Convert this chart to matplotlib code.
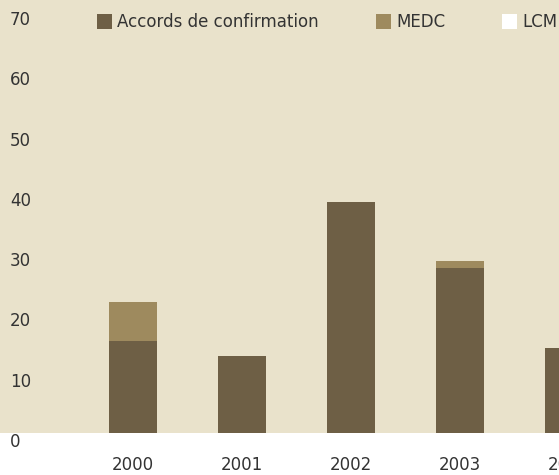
import matplotlib
matplotlib.use("Agg")
import matplotlib.pyplot as plt
from matplotlib.patches import Rectangle
import matplotlib.transforms as mtransforms

years = ["2000", "2001", "2002", "2003", "2004"]
accords = [16.7, 14.3, 39.8, 28.9, 15.6]
medc = [6.5, 0.0, 0.0, 1.1, 0.0]
lcm = [0.0, 0.0, 0.0, 0.0, 0.0]
yticks = [0, 10, 20, 30, 40, 50, 60, 70]
series_names = ["Accords de confirmation", "MEDC", "LCM"]

c_dark = "#6e5f45"
c_medc = "#9e8a5e"
c_lcm = "#ffffff"
c_bg = "#e9e2cb"
c_text = "#333333"

plt.rcParams['font.family'] = ['DejaVu Sans']

W, H = 559, 475
fig = plt.figure(figsize=(W / 100, H / 100), dpi=100)
fig.patch.set_facecolor("white")

ax_bottom_px = 433
ax = fig.add_axes([0, (H - ax_bottom_px) / H, 1, ax_bottom_px / H])
ax.set_facecolor(c_bg)
for s in ax.spines.values():
    s.set_visible(False)

px_per_unit = 6.03
zero_px = 442
ax.set_ylim((zero_px - ax_bottom_px) / px_per_unit, zero_px / px_per_unit)
x0_px, step_px = 133, 109
ax.set_xlim((0 - x0_px) / step_px, (W - x0_px) / step_px)

x = list(range(len(years)))
bw = 48 / step_px
ax.bar(x, accords, width=bw, color=c_dark, linewidth=0)
ax.bar(x, medc, width=bw, bottom=accords, color=c_medc, linewidth=0)
bot2 = [a + m for a, m in zip(accords, medc)]
ax.bar(x, lcm, width=bw, bottom=bot2, color=c_lcm, linewidth=0)

ax.set_xticks([])
ax.set_yticks([])

fs = 12
# y labels
ytrans = mtransforms.blended_transform_factory(ax.transAxes, ax.transData)
for v in yticks:
    ax.text(10 / W, v, str(v), transform=ytrans, ha="left", va="center",
            fontsize=fs, color=c_text, clip_on=False)

# x labels
xtrans = mtransforms.blended_transform_factory(ax.transData, fig.transFigure)
for xi, lab in zip(x, years):
    ax.text(xi, 1 - 465 / H, lab, transform=xtrans, ha="center", va="center",
            fontsize=fs, color=c_text, clip_on=False)

# legend
leg_items = [(97, c_dark), (376, c_medc), (502, c_lcm)]
for (sx, col), name in zip(leg_items, series_names):
    fig.patches.append(Rectangle((sx / W, 1 - 29 / H), 15 / W, 15 / H, transform=fig.transFigure,
                                 facecolor=col, edgecolor="none"))
    fig.text((sx + 20) / W, 1 - 22 / H, name, ha="left", va="center", fontsize=fs, color=c_text)

fig.savefig("out.png", dpi=100, facecolor=fig.get_facecolor())
